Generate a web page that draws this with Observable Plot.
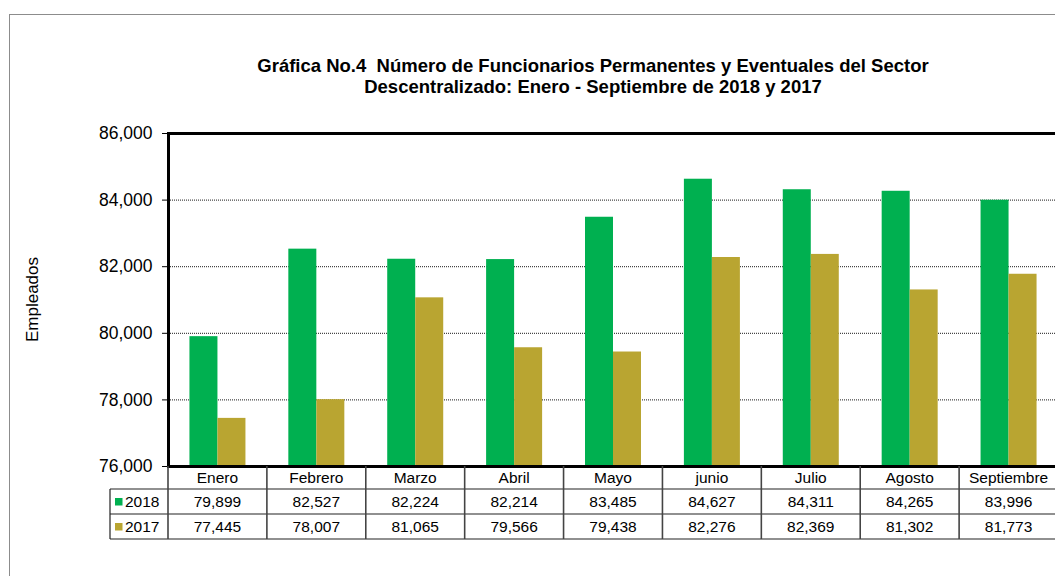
<!DOCTYPE html>
<html>
<head>
<meta charset="utf-8">
<script src="https://cdn.jsdelivr.net/npm/d3@7"></script>
<script src="https://cdn.jsdelivr.net/npm/@observablehq/plot@0.6"></script>
<style>
  html, body { margin: 0; padding: 0; background: #fff; overflow: hidden; }
  #chart { position: relative; width: 1055px; height: 576px; overflow: hidden; }
  #chart svg { max-width: none !important; font-family: "Liberation Sans", Arial, sans-serif; }
</style>
</head>
<body>
<div id="chart"></div>
<script>
const months = ["Enero", "Febrero", "Marzo", "Abril", "Mayo", "junio", "Julio", "Agosto", "Septiembre"];
const values2018 = [79899, 82527, 82224, 82214, 83485, 84627, 84311, 84265, 83996];
const values2017 = [77445, 78007, 81065, 79566, 79438, 82276, 82369, 81302, 81773];
const seriesNames = ["2018", "2017"];
const seriesColors = ["#00b050", "#b9a531"];
const yTicks = [76000, 78000, 80000, 82000, 84000, 86000];
const gridTicks = [78000, 80000, 82000, 84000];
const titleLines = [
  "Gráfica No.4  Número de Funcionarios Permanentes y Eventuales del Sector",
  "Descentralizado: Enero - Septiembre de 2018 y 2017"
];
const yLabel = "Empleados";

const rows = months.map((m, i) => ({month: m, v2018: values2018[i], v2017: values2017[i]}));

const W = 1060, H = 576;
const mL = 168, mR = 2, mT = 133, mB = 110;
const step = (W - mL - mR) / months.length;
const barW = 28;
const gapL = (step - 2 * barW) / 2;

const chart = Plot.plot({
  width: W,
  height: H,
  marginLeft: mL,
  marginRight: mR,
  marginTop: mT,
  marginBottom: mB,
  style: {fontFamily: '"Liberation Sans", Arial, sans-serif', background: "transparent", maxWidth: "none"},
  x: {type: "band", domain: months, padding: 0, round: false, axis: null},
  y: {domain: [76000, 86000], axis: null},
  marks: [
    Plot.gridY(gridTicks, {stroke: "#000", strokeOpacity: 0.9, strokeDasharray: "1,1", strokeWidth: 1}),
    Plot.barY(rows, {x: "month", y1: 76000, y2: "v2018", fill: seriesColors[0], insetLeft: gapL, insetRight: step - gapL - barW}),
    Plot.barY(rows, {x: "month", y1: 76000, y2: "v2017", fill: seriesColors[1], insetLeft: gapL + barW, insetRight: gapL}),
    Plot.axisY(yTicks, {tickFormat: d3.format(","), tickSize: 6, tickPadding: 10, fontSize: 17.5, stroke: "#000", fill: "#000"}),
    Plot.frame({stroke: "#000", strokeWidth: 3})
  ]
});

const host = document.getElementById("chart");
host.appendChild(chart);

const svg = d3.select(chart);
const xs = chart.scale("x");
const ys = chart.scale("y");
const font = '"Liberation Sans", Arial, sans-serif';

// outer border
svg.append("rect").attr("x", 9.5).attr("y", 14.5).attr("width", 1100).attr("height", 700)
  .attr("fill", "none").attr("stroke", "#8c8c8c").attr("stroke-width", 1);

// title
const tcx = 593;
titleLines.forEach((t, i) => {
  svg.append("text").attr("x", tcx).attr("y", 72 + i * 21).attr("text-anchor", "middle")
    .attr("font-family", font).attr("font-weight", "bold").attr("font-size", 18.5).attr("fill", "#000").text(t);
});

// y label
svg.append("text").attr("transform", `translate(38,${(ys.apply(76000) + ys.apply(86000)) / 2}) rotate(-90)`)
  .attr("text-anchor", "middle").attr("font-family", font).attr("font-size", 17).attr("fill", "#000").text(yLabel);

// data table
const yTop = ys.apply(76000);
const r1 = yTop + 23, r2 = r1 + 25, r3 = r2 + 25;
const legX = 110;
const xRight = xs.apply(months[months.length - 1]) + xs.bandwidth;
const g = svg.append("g").attr("font-family", font).attr("fill", "#000").attr("text-anchor", "start");
[r1, r2, r3].forEach(y => {
  g.append("line").attr("x1", legX).attr("x2", xRight).attr("y1", y).attr("y2", y)
    .attr("stroke", "#222").attr("stroke-width", 1.2);
});
months.forEach((m) => {
  const x = xs.apply(m);
  g.append("line").attr("x1", x).attr("x2", x).attr("y1", yTop).attr("y2", r3)
    .attr("stroke", "#444").attr("stroke-width", 1.6);
});
g.append("line").attr("x1", xRight).attr("x2", xRight).attr("y1", yTop).attr("y2", r3).attr("stroke", "#444").attr("stroke-width", 1.6);
g.append("line").attr("x1", legX).attr("x2", legX).attr("y1", r1).attr("y2", r3).attr("stroke", "#222").attr("stroke-width", 1.2);

const fmt = d3.format(",");
months.forEach((m, i) => {
  const cx = xs.apply(m) + xs.bandwidth / 2;
  g.append("text").attr("x", cx).attr("y", (yTop + r1) / 2 + 5.5).attr("text-anchor", "middle").attr("font-size", 15.5).text(m);
  g.append("text").attr("x", cx).attr("y", (r1 + r2) / 2 + 5.5).attr("text-anchor", "middle").attr("font-size", 15.5).text(fmt(values2018[i]));
  g.append("text").attr("x", cx).attr("y", (r2 + r3) / 2 + 5.5).attr("text-anchor", "middle").attr("font-size", 15.5).text(fmt(values2017[i]));
});
[[r1, r2], [r2, r3]].forEach(([a, b], k) => {
  const cy = (a + b) / 2;
  g.append("rect").attr("x", 115).attr("y", cy - 3.5).attr("width", 7.5).attr("height", 7.5).attr("fill", seriesColors[k]);
  g.append("text").attr("x", 125).attr("y", cy + 5.5).attr("text-anchor", "start").attr("font-size", 15.5).text(seriesNames[k]);
});
</script>
</body>
</html>
